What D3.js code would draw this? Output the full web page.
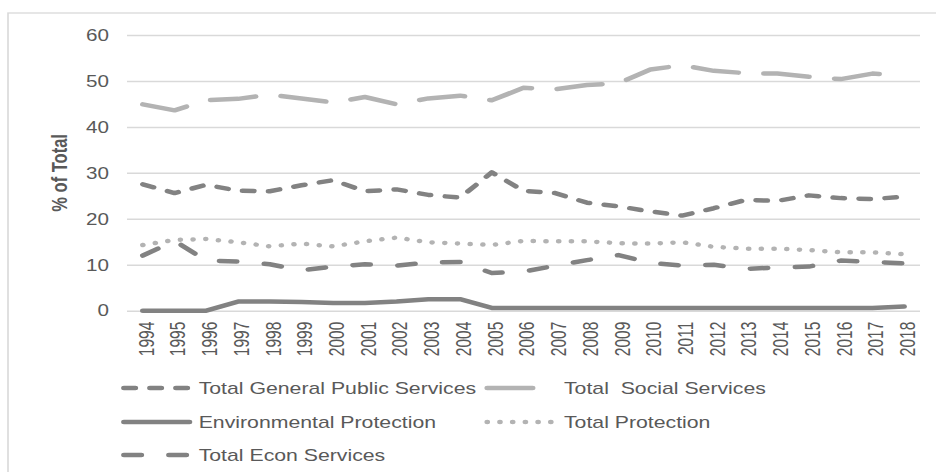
<!DOCTYPE html>
<html>
<head>
<meta charset="utf-8">
<script src="https://cdn.jsdelivr.net/npm/d3@7"></script>
<style>
  html, body { margin: 0; padding: 0; background: #fff; }
  svg { display: block; }
  text { font-family: "Liberation Sans", Arial, sans-serif; fill: #595959; }
</style>
</head>
<body>
<svg id="chart" width="936" height="472"></svg>
<script>
var years = ["1994","1995","1996","1997","1998","1999","2000","2001","2002","2003","2004","2005",
             "2006","2007","2008","2009","2010","2011","2012","2013","2014","2015","2016","2017","2018"];

var generalPublic = [27.5,25.6,27.4,26.1,26.0,27.3,28.4,26.0,26.4,25.2,24.6,30.1,26.1,25.6,23.5,22.7,21.6,20.7,22.3,24.1,23.9,25.1,24.5,24.3,24.8];
var social        = [44.9,43.6,45.8,46.1,47.0,46.2,45.3,46.5,44.9,46.2,46.8,45.8,48.5,48.2,49.1,49.5,52.5,53.4,52.2,51.7,51.6,50.9,50.4,51.6,51.2];
var environment   = [0,0,0,2.0,2.0,1.9,1.7,1.7,2.0,2.5,2.5,0.6,0.6,0.6,0.6,0.6,0.6,0.6,0.6,0.6,0.6,0.6,0.6,0.6,0.9];
var protection    = [14.3,15.4,15.6,14.9,14.0,14.6,14.0,15.1,15.9,14.9,14.6,14.3,15.2,15.1,15.1,14.7,14.6,14.9,13.9,13.5,13.5,13.2,12.7,12.7,12.3];
var econ          = [12.0,15.2,10.9,10.7,10.1,8.8,9.6,10.1,9.8,10.5,10.6,8.2,8.5,9.8,11.0,12.1,10.4,9.8,10.0,9.1,9.4,9.6,10.9,10.6,10.3];

var yTicks = [0, 10, 20, 30, 40, 50, 60];
var yTitle = "% of Total";

// the reference picture is stretched horizontally, so draw in a narrower box and stretch it
var sx = 1.25;
var svg = d3.select("#chart")
    .attr("viewBox", "0 0 " + (936 / sx) + " 472")
    .attr("preserveAspectRatio", "none");

var dark = "#828282", light = "#b3b3b3";

var series = [
    {name: "Total General Public Services", values: generalPublic, color: dark,  dash: "9.1 11.7"},
    {name: "Total  Social Services",        values: social,        color: light, dash: "36.3 20.5"},
    {name: "Environmental Protection",      values: environment,   color: dark,  dash: null},
    {name: "Total Protection",              values: protection,    color: light, dash: "0.01 10.16"},
    {name: "Total Econ Services",           values: econ,          color: dark,  dash: "13.9 22.1"}
];

var plotLeft = 127 / sx, plotRight = 920 / sx, plotTop = 35, plotBottom = 310.7;

// outer chart border
svg.append("rect")
    .attr("x", 8 / sx).attr("y", 13)
    .attr("width", 1000).attr("height", 1000)
    .attr("fill", "none")
    .attr("stroke", "#d9d9d9")
    .attr("stroke-width", 1.3);

var x = d3.scaleBand().domain(years).range([plotLeft, plotRight]);
var y = d3.scaleLinear().domain([0, 60]).range([plotBottom, plotTop]);

// gridlines + y labels
var yAxis = svg.append("g")
    .attr("transform", "translate(" + plotLeft + ",0)")
    .call(d3.axisLeft(y).tickValues(yTicks).tickSize(-(plotRight - plotLeft)).tickPadding(18 / sx));
yAxis.select(".domain").remove();
yAxis.selectAll(".tick line").attr("stroke", "#d9d9d9").attr("stroke-width", 1.5);
yAxis.selectAll(".tick text")
    .attr("fill", "#595959")
    .style("font-size", "16.5px")
    .style("font-family", "'Liberation Sans', Arial, sans-serif");

// x axis labels, rotated
var xAxis = svg.append("g")
    .attr("transform", "translate(0," + plotBottom + ")")
    .call(d3.axisBottom(x).tickSize(0).tickPadding(0));
xAxis.select(".domain").remove();
xAxis.selectAll(".tick text")
    .attr("fill", "#595959")
    .style("font-size", "15.5px")
    .style("font-family", "'Liberation Sans', Arial, sans-serif")
    .attr("text-anchor", "end")
    .attr("transform", "translate(0,11) rotate(-90) scale(1,1.12)")
    .attr("x", 0).attr("y", 0)
    .attr("dy", "0.5em");

// y title
svg.append("text")
    .attr("transform", "translate(" + (59 / sx) + "," + ((plotTop + plotBottom) / 2) + ") rotate(-90) scale(1,1.1)")
    .attr("text-anchor", "middle")
    .attr("dy", "0.35em")
    .style("font-size", "16.5px")
    .style("font-weight", "bold")
    .attr("fill", "#595959")
    .text(yTitle);

var line = d3.line()
    .x(function(d, i) { return x(years[i]) + x.bandwidth() / 2; })
    .y(function(d) { return y(d); });

series.forEach(function(s) {
    svg.append("path")
        .datum(s.values)
        .attr("d", line)
        .attr("fill", "none")
        .attr("stroke", s.color)
        .attr("stroke-width", 4.5)
        .attr("stroke-linecap", "round")
        .attr("stroke-linejoin", "round")
        .attr("stroke-dasharray", s.dash);
});

// legend: two columns, three rows
var legendCols = [121.7 / sx, 485 / sx];
var legendRows = [388, 422, 455];
var symLen = 70 / sx;
var textOffset = [77 / sx, 79 / sx];

series.forEach(function(s, i) {
    var col = i % 2, row = Math.floor(i / 2);
    var g = svg.append("g")
        .attr("transform", "translate(" + legendCols[col] + "," + legendRows[row] + ")");
    g.append("line")
        .attr("x1", 1.8).attr("x2", symLen - 1.8)
        .attr("y1", 0).attr("y2", 0)
        .attr("stroke", s.color)
        .attr("stroke-width", 4.5)
        .attr("stroke-linecap", "round")
        .attr("stroke-dasharray", s.dash);
    g.append("text")
        .attr("x", textOffset[col])
        .attr("dy", "0.35em")
        .style("font-size", "17px")
        .style("white-space", "pre")
        .attr("fill", "#595959")
        .text(s.name);
});
</script>
</body>
</html>
